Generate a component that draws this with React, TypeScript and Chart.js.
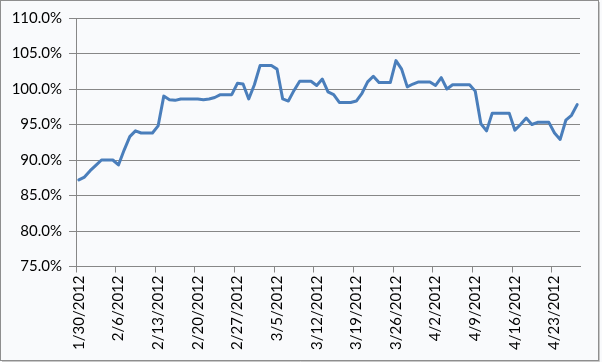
import React, { useEffect, useRef } from "react";
import { Chart, registerables } from "chart.js";

Chart.register(...registerables);

// First day shown and number of daily slots on the date axis
const START_DATE = [2012, 0, 30]; // 1/30/2012
const DAY_COUNT = 89;

// Daily values (%) from 1/30/2012 to 4/27/2012
const values: number[] = [
  87.2, 87.6, 88.5, 89.25, 90.0, 90.0, 90.0, 89.3, 91.4, 93.3,
  94.1, 93.8, 93.8, 93.8, 94.8, 99.0, 98.5, 98.4, 98.6, 98.6,
  98.6, 98.6, 98.5, 98.6, 98.8, 99.2, 99.2, 99.2, 100.8, 100.7,
  98.6, 100.6, 103.3, 103.3, 103.3, 102.8, 98.6, 98.3, 99.8, 101.1,
  101.1, 101.1, 100.5, 101.4, 99.6, 99.2, 98.1, 98.1, 98.1, 98.3,
  99.4, 101.0, 101.8, 100.9, 100.9, 100.9, 104.0, 102.8, 100.3, 100.7,
  101.0, 101.0, 101.0, 100.5, 101.6, 100.0, 100.6, 100.6, 100.6, 100.6,
  99.7, 95.1, 94.1, 96.6, 96.6, 96.6, 96.6, 94.2, 95.0, 95.9,
  95.0, 95.3, 95.3, 95.3, 93.8, 92.9, 95.6, 96.3, 97.8,
];

// Y axis range and step (%)
const Y_MIN = 75;
const Y_MAX = 110;
const Y_STEP = 5;

// Every 7th day gets a label and tick mark
const LABEL_EVERY = 7;

const dateLabels: string[] = [];
for (let i = 0; i < DAY_COUNT; i++) {
  const d = new Date(START_DATE[0], START_DATE[1], START_DATE[2] + i);
  dateLabels.push(`${d.getMonth() + 1}/${d.getDate()}/${d.getFullYear()}`);
}

const FONT = "Lato, 'Open Sans', 'DejaVu Sans', sans-serif";
const AXIS_GRAY = "#878787";

const frame = {
  id: "frame",
  beforeDraw(chart: any) {
    const { ctx, width, height } = chart;
    ctx.save();
    ctx.fillStyle = "#f9fafc";
    ctx.fillRect(0, 0, width, height);
    ctx.strokeStyle = "#8e8e8e";
    ctx.lineWidth = 1;
    ctx.strokeRect(0.5, 0.5, width - 4, height - 2);
    ctx.strokeStyle = "#c8c8c8";
    ctx.beginPath();
    ctx.moveTo(width - 2.5, 2);
    ctx.lineTo(width - 2.5, height - 0.5);
    ctx.moveTo(2, height - 0.5);
    ctx.lineTo(width - 2.5, height - 0.5);
    ctx.stroke();
    ctx.restore();
  },
};

export default function App() {
  const ref = useRef<HTMLCanvasElement | null>(null);

  useEffect(() => {
    if (!ref.current) return;
    const chart = new Chart(ref.current, {
      type: "line",
      data: {
        labels: dateLabels,
        datasets: [
          {
            data: values,
            borderColor: "#4a7ebb",
            borderWidth: 3,
            pointRadius: 0,
            tension: 0,
            fill: false,
            borderJoinStyle: "round",
            borderCapStyle: "round",
          },
        ],
      },
      options: {
        animation: false,
        responsive: false,
        maintainAspectRatio: false,
        devicePixelRatio: 1,
        layout: { padding: { top: 18, right: 22, bottom: 0, left: 0 } },
        plugins: {
          legend: { display: false },
          tooltip: { enabled: false },
        },
        scales: {
          x: {
            type: "category",
            offset: true,
            grid: {
              offset: true,
              drawOnChartArea: false,
              drawTicks: true,
              tickLength: 6,
              color: (c: any) =>
                c.index % LABEL_EVERY === 0 && c.index < DAY_COUNT ? AXIS_GRAY : "rgba(0,0,0,0)",
            },
            border: { display: true, color: AXIS_GRAY, width: 1 },
            ticks: {
              autoSkip: false,
              minRotation: 90,
              maxRotation: 90,
              padding: 3,
              color: "#000",
              font: { family: FONT, size: 15 },
              callback: (_v: any, i: number) => (i % LABEL_EVERY === 0 ? dateLabels[i] : ""),
            },
            afterFit: (s: any) => {
              s.height = 95.5;
            },
          },
          y: {
            min: Y_MIN,
            max: Y_MAX,
            grid: {
              color: AXIS_GRAY,
              lineWidth: 1,
              drawTicks: true,
              tickLength: 7,
            },
            border: { display: true, color: AXIS_GRAY, width: 1 },
            ticks: {
              stepSize: Y_STEP,
              padding: 7,
              color: "#000",
              font: { family: FONT, size: 15 },
              callback: (v: any) => Number(v).toFixed(1) + "%",
            },
            afterFit: (s: any) => {
              s.width = 76;
            },
          },
        },
      },
      plugins: [frame],
    });
    return () => chart.destroy();
  }, []);

  return (
    <div style={{ position: "absolute", left: 0, top: 0, width: 602, height: 362 }}>
      <canvas ref={ref} width={602} height={362} style={{ width: 602, height: 362, display: "block" }} />
    </div>
  );
}
